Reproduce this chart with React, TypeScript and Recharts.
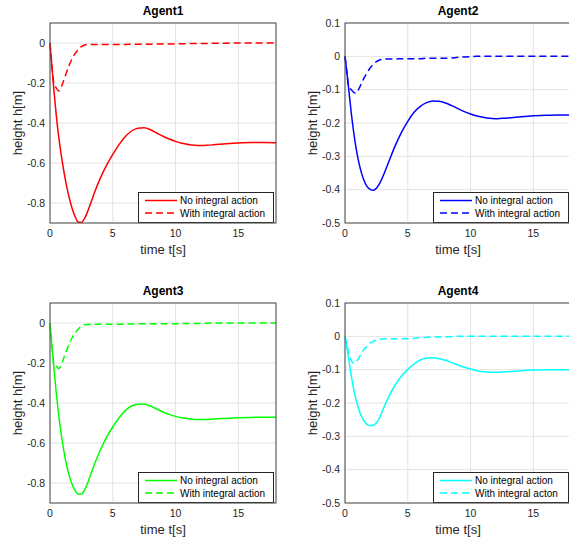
import React from 'react';
import { LineChart, Line, XAxis, YAxis, CartesianGrid, Legend } from 'recharts';

const time = [0, 0.15, 0.3, 0.5, 0.7, 0.9, 1.1, 1.3, 1.5, 1.75, 2, 2.25, 2.5, 2.75, 3, 3.25, 3.5, 4, 4.5, 5, 5.5, 6, 6.5, 7, 7.5, 8, 8.5, 9, 9.5, 10, 10.5, 11, 11.5, 12, 12.5, 13, 14, 15, 16, 17, 18];

const agent1NoIntegral = [0, -0.115, -0.228, -0.362, -0.472, -0.562, -0.64, -0.708, -0.765, -0.825, -0.868, -0.895, -0.897, -0.878, -0.842, -0.8, -0.755, -0.677, -0.612, -0.557, -0.508, -0.468, -0.44, -0.426, -0.424, -0.434, -0.45, -0.466, -0.48, -0.492, -0.501, -0.507, -0.511, -0.512, -0.511, -0.509, -0.504, -0.5, -0.498, -0.498, -0.499];
const agent1WithIntegral = [0, -0.11, -0.2, -0.225, -0.24, -0.22, -0.185, -0.15, -0.115, -0.08, -0.053, -0.033, -0.018, -0.01, -0.007, -0.007, -0.007, -0.007, -0.007, -0.007, -0.007, -0.007, -0.006, -0.006, -0.006, -0.006, -0.005, -0.005, -0.005, -0.004, -0.004, -0.003, -0.003, -0.002, -0.002, -0.001, -0.001, 0, 0, 0, 0];

const agent2NoIntegral = [0, -0.048, -0.1, -0.17, -0.23, -0.279, -0.318, -0.348, -0.371, -0.39, -0.399, -0.402, -0.396, -0.382, -0.362, -0.339, -0.315, -0.268, -0.228, -0.195, -0.168, -0.15, -0.139, -0.134, -0.135, -0.14, -0.148, -0.157, -0.166, -0.173, -0.179, -0.183, -0.186, -0.187, -0.186, -0.185, -0.181, -0.178, -0.177, -0.176, -0.176];
const agent2WithIntegral = [0, -0.05, -0.092, -0.1, -0.108, -0.11, -0.098, -0.082, -0.066, -0.05, -0.035, -0.024, -0.016, -0.011, -0.009, -0.008, -0.008, -0.008, -0.007, -0.007, -0.007, -0.007, -0.006, -0.006, -0.006, -0.006, -0.005, -0.003, -0.002, -0.001, 0, 0, 0, 0, 0, 0, 0, 0, 0, 0, 0];

const agent3NoIntegral = [0, -0.11, -0.218, -0.35, -0.465, -0.56, -0.638, -0.705, -0.757, -0.805, -0.838, -0.855, -0.855, -0.836, -0.8, -0.757, -0.713, -0.636, -0.572, -0.52, -0.474, -0.438, -0.415, -0.406, -0.406, -0.415, -0.43, -0.445, -0.457, -0.467, -0.474, -0.479, -0.482, -0.483, -0.482, -0.48, -0.477, -0.474, -0.472, -0.471, -0.471];
const agent3WithIntegral = [0, -0.11, -0.2, -0.215, -0.228, -0.21, -0.175, -0.14, -0.11, -0.075, -0.05, -0.03, -0.017, -0.009, -0.007, -0.006, -0.006, -0.006, -0.006, -0.006, -0.006, -0.006, -0.005, -0.004, -0.004, -0.004, -0.004, -0.004, -0.004, -0.004, -0.003, -0.002, -0.002, -0.002, -0.001, 0, 0, 0, 0, 0, 0];

const agent4NoIntegral = [0, -0.032, -0.07, -0.118, -0.16, -0.193, -0.219, -0.239, -0.253, -0.264, -0.268, -0.267, -0.259, -0.245, -0.222, -0.2, -0.18, -0.146, -0.119, -0.099, -0.083, -0.071, -0.065, -0.064, -0.067, -0.072, -0.079, -0.086, -0.093, -0.098, -0.103, -0.106, -0.108, -0.108, -0.107, -0.106, -0.103, -0.101, -0.1, -0.1, -0.1];
const agent4WithIntegral = [0, -0.025, -0.05, -0.072, -0.082, -0.076, -0.065, -0.052, -0.04, -0.03, -0.02, -0.015, -0.011, -0.009, -0.008, -0.007, -0.007, -0.007, -0.007, -0.007, -0.006, -0.004, -0.003, -0.002, -0.002, -0.001, -0.001, 0, 0, 0, 0, 0, 0, 0, 0, 0, 0, 0, 0, 0, 0];

const xTicks = [0, 5, 10, 15];
const yTicksDeep = [0, -0.2, -0.4, -0.6, -0.8];
const yTicksShallow = [0.1, 0, -0.1, -0.2, -0.3, -0.4, -0.5];

const FONT = '"Liberation Sans", Arial, Helvetica, sans-serif';
const INK = '#262626';

const PANEL_W = 285;
const PANEL_H = 270;
const PLOT_L = 50;
const PLOT_T = 23;
const PLOT_W = 226;
const PLOT_H = 200;

function LegendBox({ payload }: any) {
  return (
    <svg width={136} height={31} style={{ display: 'block' }}>
      <rect x={0.5} y={0.5} width={135} height={30} fill="#fff" stroke={INK} strokeWidth={1} />
      {(payload || []).map((entry: any, i: number) => {
        const cy = 8.5 + i * 12.5;
        return (
          <g key={i}>
            <line x1={7} x2={39} y1={cy} y2={cy} stroke={entry.color} strokeWidth={1.5}
              strokeDasharray={entry.payload?.strokeDasharray} />
            <text x={42} y={cy + 3.5} fontSize={10} fill="#000" fontFamily={FONT}>{entry.value}</text>
          </g>
        );
      })}
    </svg>
  );
}

function AgentPanel({ title, color, noIntegral, withIntegral, withLabel, yDomain, yTicks, left, top }: any) {
  const rows = time.map((t, i) => ({ t, noInt: noIntegral[i], withInt: withIntegral[i] }));
  return (
    <div style={{ position: 'absolute', left, top, width: PANEL_W, height: PANEL_H }}>
      <LineChart width={PANEL_W} height={PANEL_H} data={rows}
        margin={{ top: PLOT_T, right: PANEL_W - PLOT_L - PLOT_W, bottom: 16, left: 0 }}
        style={{ fontFamily: FONT }}>
        <CartesianGrid stroke="#e3e3e3" strokeWidth={1} />
        <XAxis dataKey="t" type="number" domain={[0, 18]} ticks={xTicks} height={31}
          axisLine={false} tickLine={false} tickSize={0} tickMargin={7}
          tick={{ fontSize: 10.5, fill: INK }}
          label={{ value: 'time t[s]', position: 'insideBottom', offset: 0, style: { fontSize: 13, fill: INK } }} />
        <YAxis type="number" domain={yDomain} ticks={yTicks} width={PLOT_L} allowDataOverflow
          axisLine={false} tickLine={false} tickSize={0} tickMargin={5}
          tick={{ fontSize: 10.5, fill: INK }}
          tickFormatter={(v: number) => String(v)}
          label={{ value: 'height h[m]', angle: -90, position: 'insideLeft', offset: 17, style: { textAnchor: 'middle', fontSize: 13, fill: INK } }} />
        <Line dataKey="noInt" name="No integral action" type="monotone" stroke={color}
          strokeWidth={1.5} dot={false} isAnimationActive={false} />
        <Line dataKey="withInt" name={withLabel} type="monotone" stroke={color}
          strokeWidth={1.5} strokeDasharray="7 4" dot={false} isAnimationActive={false} />
        <Legend layout="vertical" align="center" verticalAlign="middle" content={<LegendBox />}
          wrapperStyle={{ left: 138, top: 192, width: 136, height: 31 }} />
      </LineChart>
      <svg width={PANEL_W + 10} height={PANEL_H} style={{ position: 'absolute', left: 0, top: 0, pointerEvents: 'none' }}>
        <rect x={PLOT_L} y={PLOT_T} width={PLOT_W} height={PLOT_H} fill="none" stroke="#4a4a4a" strokeWidth={1} />
        <text x={PLOT_L + PLOT_W / 2} y={15} textAnchor="middle" fontSize={12} fontWeight="bold" fill="#000" fontFamily={FONT}>{title}</text>
      </svg>
    </div>
  );
}

export default function App() {
  return (
    <div style={{ position: 'absolute', left: 0, top: 0, width: 569, height: 544, overflow: 'hidden', background: '#fff', fontFamily: FONT }}>
      <AgentPanel title="Agent1" color="#ff0000" noIntegral={agent1NoIntegral} withIntegral={agent1WithIntegral}
        withLabel="With integral action" yDomain={[-0.9, 0.1]} yTicks={yTicksDeep} left={0} top={0} />
      <AgentPanel title="Agent2" color="#0000ff" noIntegral={agent2NoIntegral} withIntegral={agent2WithIntegral}
        withLabel="With integral action" yDomain={[-0.5, 0.1]} yTicks={yTicksShallow} left={295} top={0} />
      <AgentPanel title="Agent3" color="#00ff00" noIntegral={agent3NoIntegral} withIntegral={agent3WithIntegral}
        withLabel="With integral action" yDomain={[-0.9, 0.1]} yTicks={yTicksDeep} left={0} top={280} />
      <AgentPanel title="Agent4" color="#00ffff" noIntegral={agent4NoIntegral} withIntegral={agent4WithIntegral}
        withLabel="With integral acton" yDomain={[-0.5, 0.1]} yTicks={yTicksShallow} left={295} top={280} />
    </div>
  );
}
